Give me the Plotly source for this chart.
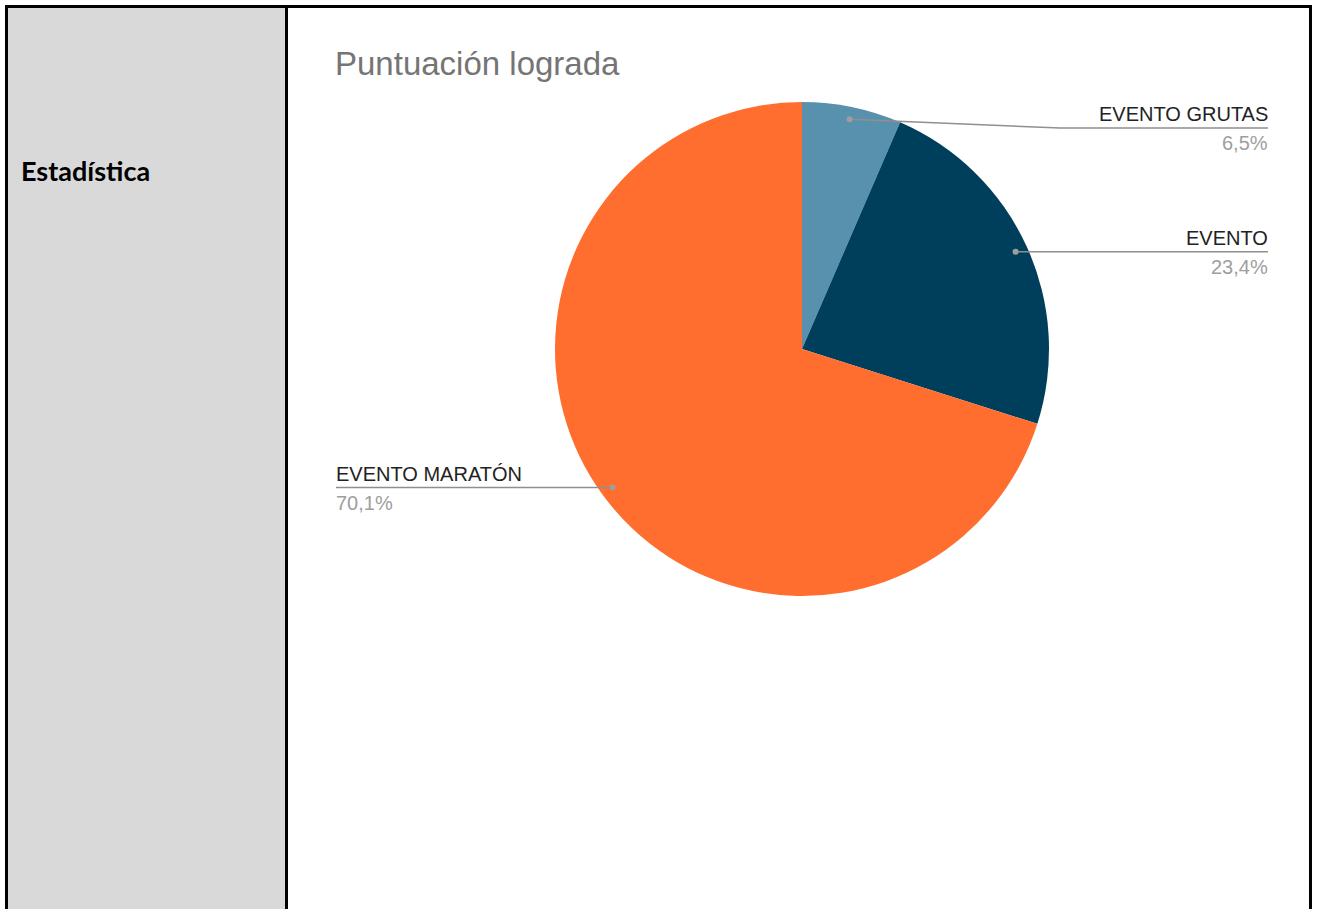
import math
import plotly.graph_objects as go

W, H = 1318, 909

# ---- data ----
labels = ["EVENTO GRUTAS", "EVENTO", "EVENTO MARATÓN"]
values = [6.5, 23.4, 70.1]
colors = ["#5891ad", "#003f5c", "#ff6e2e"]
title_text = "Puntuación lograda"
side_label = "Estadística"

# ---- layout constants (pixels) ----
cx, cy, R = 802, 349, 247
right_x, left_x = 1268, 336
min_line_y = 128
elbow_x = 1060
text_pad = 2


def px(x):
    return x / W


def py(y):
    return 1 - y / H


fig = go.Figure()
fig.add_trace(go.Pie(
    labels=labels, values=values, sort=False, direction="clockwise", rotation=0,
    marker=dict(colors=colors, line=dict(width=0)),
    textinfo="none", hoverinfo="label+percent", showlegend=False,
    domain=dict(x=[px(cx - R), px(cx + R)], y=[py(cy + R), py(cy - R)]),
))

shapes = []
annotations = []

# table-like frame
shapes.append(dict(type="rect", xref="paper", yref="paper", x0=px(7), x1=px(287), y0=py(H + 5), y1=py(6),
                   fillcolor="#d9d9d9", line=dict(width=0), layer="below"))
for (x0, y0, x1, y1) in [(6.5, 6, 6.5, H + 5), (286.5, 6, 286.5, H + 5), (1310.5, 6, 1310.5, H + 5), (5, 6.5, 1312, 6.5)]:
    shapes.append(dict(type="line", xref="paper", yref="paper", x0=px(x0), x1=px(x1), y0=py(y0), y1=py(y1),
                       line=dict(color="#000000", width=3)))

# leader lines and labels derived from values
total = sum(values)
cum = 0.0
for lab, v in zip(labels, values):
    mid = (cum + v / 2) / total * 2 * math.pi
    cum += v
    dx = math.sin(mid) * R * 0.95
    dy = -math.cos(mid) * R * 0.95
    dot_x, dot_y = cx + dx, cy + dy
    line_y = max(dot_y, min_line_y)
    pct = f"{v / total * 100:.1f}".replace(".", ",") + "%"
    if dx >= 0:
        ex = max(dot_x, elbow_x)
        path = f"M {px(dot_x)} {py(dot_y)} L {px(ex)} {py(line_y)} L {px(right_x)} {py(line_y)}"
        tx, xanchor = right_x + text_pad, "right"
    else:
        path = f"M {px(dot_x)} {py(dot_y)} L {px(left_x)} {py(line_y)}"
        tx, xanchor = left_x - text_pad, "left"
    shapes.append(dict(type="path", xref="paper", yref="paper", path=path,
                       line=dict(color="#8f8f8f", width=1.5)))
    shapes.append(dict(type="circle", xref="paper", yref="paper",
                       x0=px(dot_x - 3), x1=px(dot_x + 3), y0=py(dot_y + 3), y1=py(dot_y - 3),
                       fillcolor="#9e9e9e", line=dict(width=0)))
    annotations.append(dict(xref="paper", yref="paper", x=px(tx), y=py(line_y - 1), xanchor=xanchor,
                            yanchor="bottom", text=lab, showarrow=False,
                            font=dict(family="Liberation Sans, Arial", size=20, color="#222222")))
    annotations.append(dict(xref="paper", yref="paper", x=px(tx), y=py(line_y + 2), xanchor=xanchor,
                            yanchor="top", text=pct, showarrow=False,
                            font=dict(family="Liberation Sans, Arial", size=20, color="#9e9e9e")))

annotations.append(dict(xref="paper", yref="paper", x=px(333), y=py(63), xanchor="left", yanchor="middle",
                        text=title_text, showarrow=False,
                        font=dict(family="Liberation Sans, Arial", size=33, color="#757575")))
annotations.append(dict(xref="paper", yref="paper", x=px(19), y=py(171), xanchor="left", yanchor="middle",
                        text=f"<b>{side_label}</b>", showarrow=False,
                        font=dict(family="Lato", size=27, color="#000000")))

fig.update_layout(
    width=W, height=H, margin=dict(l=0, r=0, t=0, b=0),
    paper_bgcolor="#ffffff", plot_bgcolor="#ffffff",
    shapes=shapes, annotations=annotations,
)

fig.write_html("out.html", config={"displayModeBar": False},
               post_script="document.body.style.margin='0';document.body.style.overflow='hidden';")
